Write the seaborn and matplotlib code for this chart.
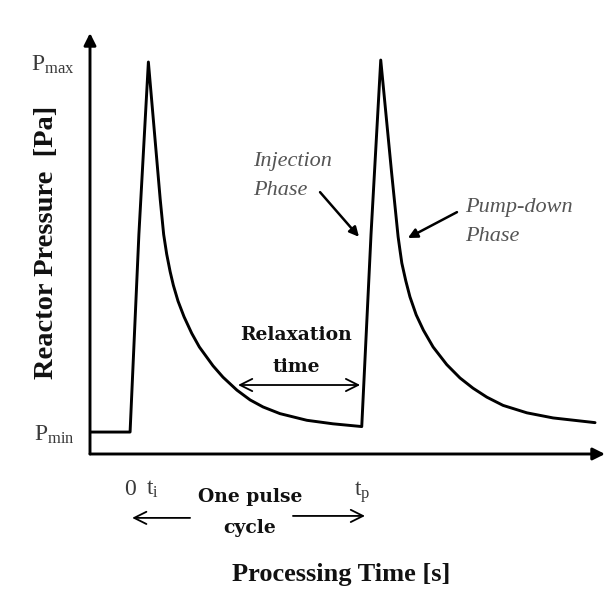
import matplotlib
matplotlib.use("Agg")
import matplotlib.pyplot as plt
import seaborn as sns
import pandas as pd

# Pressure trace over two pulse cycles (time in arbitrary units, pressure in arbitrary units)
time = [-1.73, 0.0, 0.38, 0.79, 1.08, 1.30, 1.45, 1.58, 1.73, 1.87, 2.07, 2.33, 2.66, 2.99,
        3.58, 4.01, 4.61, 5.18, 5.74, 6.47, 7.63, 8.76, 10.0,
        10.40, 10.82, 11.29, 11.57, 11.65, 11.73, 11.90, 12.08, 12.35, 12.66, 13.08,
        13.67, 14.24, 14.80, 15.40, 16.10, 17.13, 18.26, 20.07]
pressure = [0.56, 0.56, 5.60, 10.0, 8.01, 6.50, 5.60, 5.10, 4.65, 4.30, 3.90, 3.50, 3.08, 2.73,
            2.25, 1.96, 1.63, 1.38, 1.20, 1.03, 0.86, 0.77, 0.70,
            5.60, 10.05, 7.17, 5.54, 5.20, 4.87, 4.42, 4.01, 3.55, 3.16, 2.73,
            2.28, 1.94, 1.68, 1.45, 1.24, 1.05, 0.92, 0.80]

# Axis markers
p_ticks = [0.56, 10.0]
p_labels = [r"P$_{\mathregular{min}}$", r"P$_{\mathregular{max}}$"]
t_ticks = [0.0, 0.98, 10.0]
t_labels = ["0", r"t$_{\mathregular{i}}$", r"t$_{\mathregular{p}}$"]

sns.set_theme(style="white")
plt.rcParams["font.family"] = ["Liberation Serif", "DejaVu Serif"]
plt.rcParams["mathtext.fontset"] = "custom"
plt.rcParams["mathtext.rm"] = "Liberation Serif"
plt.rcParams["mathtext.it"] = "Liberation Serif:italic"

df = pd.DataFrame({"time": time, "pressure": pressure})

fig = plt.figure(figsize=(6.11, 5.91), dpi=100)
W, H = 611, 591
ax = fig.add_axes([90 / W, (H - 454) / H, (605 - 90) / W, (454 - 33) / H])

sns.lineplot(data=df, x="time", y="pressure", sort=False, estimator=None,
             color="black", lw=2.1, ax=ax)

ax.set_xlim(-1.73, 20.5)
ax.set_ylim(0, 10.74)
for s in ax.spines.values():
    s.set_visible(False)

# Axes drawn as arrows
arrow_kw = dict(arrowstyle="-|>", lw=2.1, color="black", mutation_scale=18,
                shrinkA=0, shrinkB=0)
ax.annotate("", xy=(1, 0), xytext=(0, 0), xycoords="axes fraction",
            textcoords="axes fraction", arrowprops=arrow_kw)
ax.annotate("", xy=(0, 1), xytext=(0, 0), xycoords="axes fraction",
            textcoords="axes fraction", arrowprops=arrow_kw)

grey = "#3a3a3a"
ax.set_xticks(t_ticks)
ax.set_xticklabels(t_labels)
ax.set_yticks(p_ticks)
ax.set_yticklabels(p_labels)
ax.tick_params(axis="both", direction="inout", length=16, width=1.3, colors="black",
               labelsize=17, labelcolor=grey)
ax.tick_params(axis="x", pad=10)
ax.tick_params(axis="y", pad=3)
ax.yaxis.get_major_ticks()[0].tick1line.set_visible(False)

ax.set_xlabel("")
ax.set_ylabel("")
fig.text(341 / W, 1 - 575 / H, "Processing Time [s]", fontsize=19, fontweight="bold",
         color="#111111", ha="center", va="center")
fig.text(47 / W, 1 - 242 / H, "Reactor Pressure  [Pa]", fontsize=20.5, fontweight="bold",
         color="#111111", ha="center", va="center", rotation=90)

# Phase annotations
ital = dict(fontsize=16, fontstyle="italic", color="#555555", ha="left", va="center")
ax.text(5.31, 7.45, "Injection", **ital)
ax.text(5.31, 6.73, "Phase", **ital)
ax.text(14.46, 6.28, "Pump-down", **ital)
ax.text(14.46, 5.54, "Phase", **ital)
head = dict(arrowstyle="-|>", lw=1.8, color="black", mutation_scale=14,
            shrinkA=0, shrinkB=0)
ax.annotate("", xy=(9.88, 5.54), xytext=(8.20, 6.68), arrowprops=head)
ax.annotate("", xy=(11.99, 5.51), xytext=(14.11, 6.17), arrowprops=head)

# Relaxation time span
bold = dict(fontsize=13.5, fontweight="bold", color="#111111", ha="center", va="center",
            family=["DejaVu Serif"])
ax.text(7.16, 3.04, "Relaxation", **bold)
ax.text(7.16, 2.22, "time", **bold)
span = dict(arrowstyle="<->", lw=1.3, color="black", mutation_scale=22,
            shrinkA=0, shrinkB=0)
ax.annotate("", xy=(9.93, 1.76), xytext=(4.66, 1.76), arrowprops=span)

# One pulse cycle span below the time axis
ax.text(5.18, -1.10, "One pulse", clip_on=False, **bold)
ax.text(5.18, -1.89, "cycle", clip_on=False, **bold)
one = dict(arrowstyle="->", lw=1.3, color="black", mutation_scale=22,
           shrinkA=0, shrinkB=0)
ax.annotate("", xy=(0.09, -1.63), xytext=(2.59, -1.63), arrowprops=one,
            annotation_clip=False)
ax.annotate("", xy=(10.14, -1.58), xytext=(7.03, -1.58), arrowprops=one,
            annotation_clip=False)

fig.savefig("out.png", dpi=100)
